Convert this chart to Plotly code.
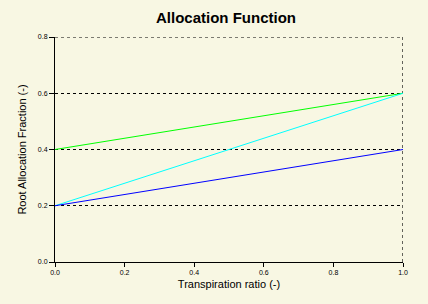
import plotly.graph_objects as go

x_vals = [0.0, 1.0]
green_y = [0.4, 0.6]
cyan_y = [0.2, 0.6]
blue_y = [0.2, 0.4]
tick_vals = [0.0, 0.2, 0.4, 0.6, 0.8, 1.0]
tick_text = ["0.0", "0.2", "0.4", "0.6", "0.8", "1.0"]

bg = "#F8F7E3"
fig = go.Figure()
fig.add_trace(go.Scatter(x=x_vals, y=green_y, mode="lines", line=dict(color="#00FF00", width=1)))
fig.add_trace(go.Scatter(x=x_vals, y=cyan_y, mode="lines", line=dict(color="#00FFFF", width=1)))
fig.add_trace(go.Scatter(x=x_vals, y=blue_y, mode="lines", line=dict(color="#0000FF", width=1)))

dash = "3px,3px"
fig.add_shape(type="line", xref="x", yref="y", x0=1, x1=1, y0=0, y1=0.8,
              line=dict(color="black", width=1.2, dash=dash), layer="below")
fig.add_shape(type="line", xref="x", yref="y", x0=0, x1=1, y0=0.8, y1=0.8,
              line=dict(color="black", width=1.2, dash=dash), layer="below")

fig.update_layout(
    width=428, height=304,
    margin=dict(l=55, r=25, t=37, b=42),
    paper_bgcolor=bg, plot_bgcolor=bg,
    showlegend=False,
    font=dict(family="Liberation Sans, Arial, sans-serif", color="black"),
    title=dict(text="<b>Allocation Function</b>",
               x=0.528, xanchor="center", y=0.94, yanchor="middle",
               font=dict(size=15, color="black")),
    xaxis=dict(range=[0, 1], tickvals=tick_vals, ticktext=tick_text, showgrid=False,
               showline=True, linecolor="black", linewidth=1, ticks="outside", ticklen=4,
               tickcolor="black", tickfont=dict(size=7), zeroline=False,
               title=dict(text="Transpiration ratio (-)", font=dict(size=11), standoff=4)),
    yaxis=dict(range=[0, 0.8], tickvals=tick_vals[:5], ticktext=tick_text[:5], showgrid=True,
               gridcolor="black", griddash=dash, gridwidth=1,
               showline=True, linecolor="black", linewidth=1, ticks="outside", ticklen=5,
               tickcolor="black", tickfont=dict(size=7), zeroline=False,
               title=dict(text="Root Allocation Fraction (-)", font=dict(size=11), standoff=9)),
)
fig.write_html("out.html")
